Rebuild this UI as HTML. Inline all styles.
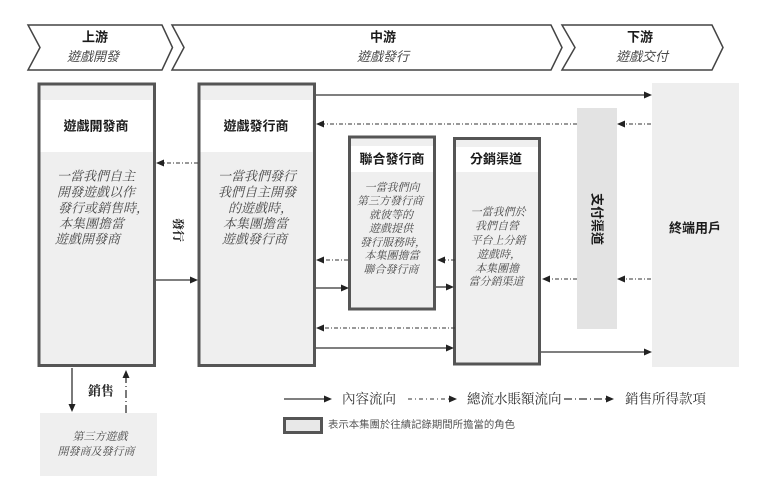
<!DOCTYPE html>
<html><head><meta charset="utf-8"><style>
html,body{margin:0;padding:0;background:#fff;}
svg{display:block;}
.sans{font-family:"Liberation Sans","Noto Sans CJK TC",sans-serif;}
.serif{font-family:"Liberation Serif","Noto Serif CJK SC",serif;}
.t{font-weight:bold;fill:#1a1a1a;font-size:13px;}
.it{font-style:italic;fill:#4a4a4a;}
.ln{stroke:#333;stroke-width:1.3;fill:none;}
.dl{stroke:#333;stroke-width:1;fill:none;stroke-dasharray:4 2 1 2;}
.ah{fill:#222;}
</style></head><body>
<svg width="764" height="487" viewBox="0 0 764 487" xmlns="http://www.w3.org/2000/svg">
<!-- chevrons -->
<g stroke="#444" stroke-width="1.5" fill="#fff">
<polygon points="28,25 162,25 172.5,47.5 162,70 28,70 40,47.5"/>
<polygon points="172,25 551,25 562,47.5 551,70 172,70 184,47.5"/>
<polygon points="562,25 712,25 723,47.5 712,70 562,70 575,47.5"/>
</g>
<g class="sans" text-anchor="middle" dominant-baseline="central">
<text x="95" y="37" class="t">上游</text>
<text x="93" y="56.5" class="it" font-size="13">遊戲開發</text>
<text x="383" y="37" class="t">中游</text>
<text x="383" y="56.5" class="it" font-size="13">遊戲發行</text>
<text x="640" y="37" class="t">下游</text>
<text x="642" y="56.5" class="it" font-size="13">遊戲交付</text>
</g>

<!-- grey boxes -->
<rect x="577" y="108" width="40" height="221" fill="#e3e3e3"/>
<rect x="652" y="83" width="87" height="284" fill="#eeeeee"/>
<rect x="40" y="413" width="117" height="63" fill="#efefef"/>

<!-- main boxes -->
<g stroke="#555" stroke-width="3" fill="#efefef">
<rect x="39" y="84" width="115.5" height="281.5"/>
<rect x="199" y="84" width="115.5" height="281.5"/>
<rect x="349.5" y="137" width="85" height="172"/>
<rect x="454.5" y="138.5" width="85" height="225.5"/>
</g>
<g fill="#fff">
<rect x="40.5" y="100" width="112" height="52"/>
<rect x="200.5" y="100" width="112" height="52"/>
<rect x="351" y="146" width="82" height="26"/>
<rect x="456" y="147" width="82" height="25"/>
</g>

<!-- titles -->
<g class="sans t" text-anchor="middle" dominant-baseline="central">
<text x="96" y="126">遊戲開發商</text>
<text x="256" y="126">遊戲發行商</text>
<text x="392" y="159">聯合發行商</text>
<text x="496" y="159">分銷渠道</text>
<text x="695" y="228">終端用戶</text>
<text transform="translate(597,219) rotate(90)">支付渠道</text>
</g>

<!-- body texts -->
<g class="serif it" font-size="13" dominant-baseline="central">
<text x="57" y="176">一當我們自主</text>
<text x="57" y="192">開發遊戲以作</text>
<text x="58" y="208">發行或銷售時，</text>
<text x="59" y="223.5">本集團擔當</text>
<text x="55" y="239">遊戲開發商</text>
<text x="218" y="176">一當我們發行</text>
<text x="218" y="192">我們自主開發</text>
<text x="228" y="208">的遊戲時，</text>
<text x="223" y="223.5">本集團擔當</text>
<text x="222" y="239">遊戲發行商</text>
</g>
<g class="serif it" font-size="11" text-anchor="middle" dominant-baseline="central">
<text x="392" y="188">一當我們向</text>
<text x="390" y="201.7">第三方發行商</text>
<text x="391" y="215.7">就彼等的</text>
<text x="391" y="229">遊戲提供</text>
<text x="393" y="243">發行服務時，</text>
<text x="392" y="256">本集團擔當</text>
<text x="391" y="270">聯合發行商</text>
<text x="498" y="212.7">一當我們於</text>
<text x="497" y="226.7">我們自營</text>
<text x="498" y="241">平台上分銷</text>
<text x="499" y="255">遊戲時，</text>
<text x="497" y="269">本集團擔</text>
<text x="496" y="282">當分銷渠道</text>
<text x="100" y="437">第三方遊戲</text>
<text x="96" y="452">開發商及發行商</text>
</g>

<!-- solid arrows -->
<g class="ln">
<line x1="316" y1="95" x2="644" y2="95"/>
<line x1="156" y1="280" x2="190" y2="280"/>
<line x1="316" y1="288" x2="341" y2="288"/>
<line x1="436" y1="287" x2="446" y2="287"/>
<line x1="316" y1="348" x2="446" y2="348"/>
<line x1="541" y1="352" x2="644" y2="352"/>
<line x1="72" y1="368" x2="72" y2="404"/>
<line x1="284" y1="399" x2="324" y2="399"/>
</g>
<g class="ah">
<polygon points="652,95 644,91.5 644,98.5"/>
<polygon points="198,280 190,276.5 190,283.5"/>
<polygon points="349,288 341,284.5 341,291.5"/>
<polygon points="454,287 446,283.5 446,290.5"/>
<polygon points="454,348 446,344.5 446,351.5"/>
<polygon points="652,352 644,348.5 644,355.5"/>
<polygon points="72,412 68.5,404 75.5,404"/>
<polygon points="332,399 324,395.5 324,402.5"/>
</g>

<!-- dash-dot arrows -->
<g class="dl">
<line x1="577" y1="124" x2="323" y2="124"/>
<line x1="651" y1="124" x2="624" y2="124"/>
<line x1="198" y1="163" x2="163" y2="163"/>
<line x1="348" y1="260" x2="323" y2="260"/>
<line x1="455" y1="260" x2="444" y2="260"/>
<line x1="455" y1="328" x2="323" y2="328"/>
<line x1="577" y1="279" x2="549" y2="279"/>
<line x1="651" y1="279" x2="624" y2="279"/>
<line x1="408" y1="399" x2="449" y2="399" stroke-dasharray="4 3 1 3"/>
<line x1="564" y1="399" x2="606" y2="399" stroke-dasharray="8 3 1 3" stroke-width="1.3"/>
<line x1="126" y1="413" x2="126" y2="378" stroke-dasharray="8 3 1 3" stroke-width="1.3"/>
</g>
<g class="ah">
<polygon points="316,124 324,120.5 324,127.5"/>
<polygon points="617,124 625,120.5 625,127.5"/>
<polygon points="156,163 164,159.5 164,166.5"/>
<polygon points="316,260 324,256.5 324,263.5"/>
<polygon points="437,260 445,256.5 445,263.5"/>
<polygon points="316,328 324,324.5 324,331.5"/>
<polygon points="542,279 550,275.5 550,282.5"/>
<polygon points="617,279 625,275.5 625,282.5"/>
<polygon points="457,399 449,395.5 449,402.5"/>
<polygon points="614,399 606,395.5 606,402.5"/>
<polygon points="126,370 122.5,378 129.5,378"/>
</g>

<!-- side labels -->
<g class="serif" font-weight="bold" fill="#222" dominant-baseline="central">
<text x="88" y="391" font-size="13">銷售</text>
<text transform="translate(178,230) rotate(90)" text-anchor="middle" font-size="12">發行</text>
</g>

<!-- legend -->
<g class="serif" font-size="13.5" fill="#333" dominant-baseline="central">
<text x="342" y="399">內容流向</text>
<text x="467" y="399">總流水賬額流向</text>
<text x="625" y="399">銷售所得款項</text>
</g>
<rect x="284.5" y="418.5" width="37" height="14" stroke="#555" stroke-width="3" fill="#e8e8e8"/>
<text x="328" y="425.5" class="sans" font-size="10.4" fill="#555" dominant-baseline="central">表示本集團於往績記錄期間所擔當的角色</text>
</svg>
</body></html>
